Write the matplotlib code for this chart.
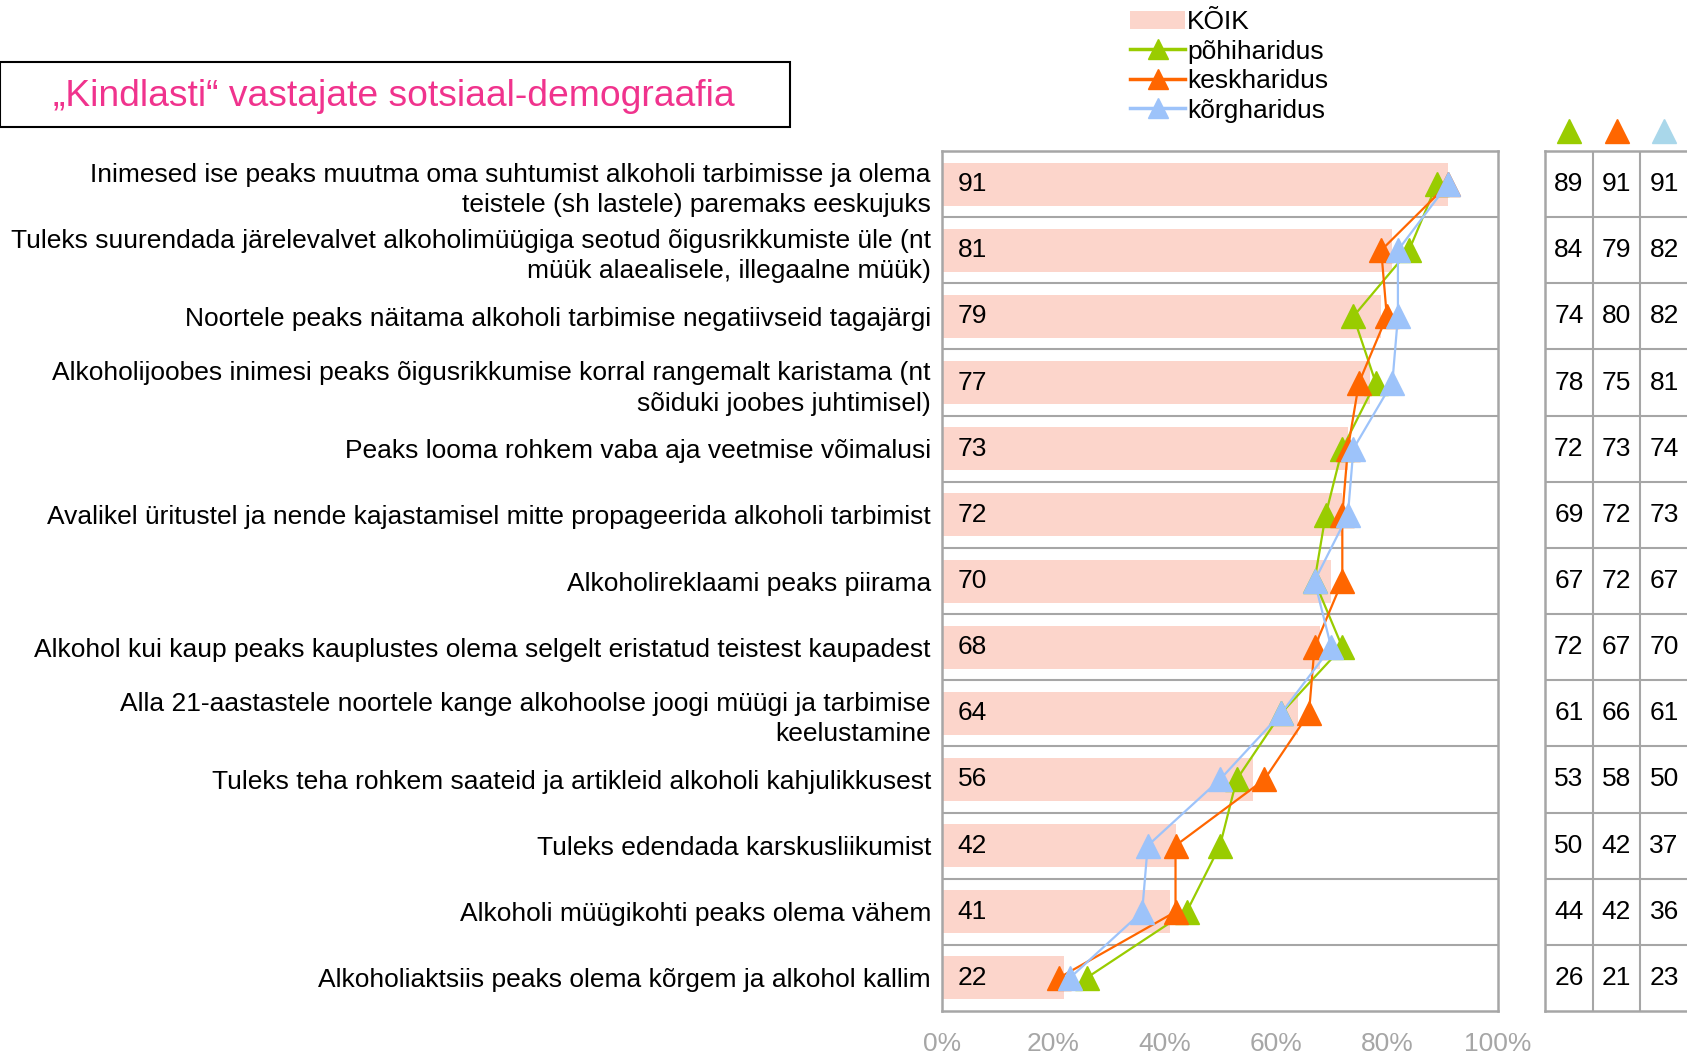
import matplotlib.pyplot as plt
from matplotlib.patches import Rectangle, Patch
from matplotlib.lines import Line2D

plt.rcParams['font.family'] = ['Liberation Sans', 'DejaVu Sans']

categories = [
    "Inimesed ise peaks muutma oma suhtumist alkoholi tarbimisse ja olema\nteistele (sh lastele) paremaks eeskujuks",
    "Tuleks suurendada järelevalvet alkoholimüügiga seotud õigusrikkumiste üle (nt\nmüük alaealisele, illegaalne müük)",
    "Noortele peaks näitama alkoholi tarbimise negatiivseid tagajärgi",
    "Alkoholijoobes inimesi peaks õigusrikkumise korral rangemalt karistama (nt\nsõiduki joobes juhtimisel)",
    "Peaks looma rohkem vaba aja veetmise võimalusi",
    "Avalikel üritustel ja nende kajastamisel mitte propageerida alkoholi tarbimist",
    "Alkoholireklaami peaks piirama",
    "Alkohol kui kaup peaks kauplustes olema selgelt eristatud teistest kaupadest",
    "Alla 21-aastastele noortele kange alkohoolse joogi müügi ja tarbimise\nkeelustamine",
    "Tuleks teha rohkem saateid ja artikleid alkoholi kahjulikkusest",
    "Tuleks edendada karskusliikumist",
    "Alkoholi müügikohti peaks olema vähem",
    "Alkoholiaktsiis peaks olema kõrgem ja alkohol kallim",
]
koik = [91, 81, 79, 77, 73, 72, 70, 68, 64, 56, 42, 41, 22]
pohiharidus = [89, 84, 74, 78, 72, 69, 67, 72, 61, 53, 50, 44, 26]
keskharidus = [91, 79, 80, 75, 73, 72, 72, 67, 66, 58, 42, 42, 21]
korgharidus = [91, 82, 82, 81, 74, 73, 67, 70, 61, 50, 37, 36, 23]
xticks = [0, 20, 40, 60, 80, 100]

W, H = 1687, 1053
fig = plt.figure(figsize=(W / 100, H / 100), dpi=100)

def px_axes(x0, y0, x1, y1):
    return fig.add_axes([x0 / W, 1 - y1 / H, (x1 - x0) / W, (y1 - y0) / H])

pink = '#FCD5CB'
green = '#99CC00'
orange = '#FF6600'
blue = '#9DC3FA'
grid = '#A6A6A6'
fs = 19

n = len(categories)
rows = list(range(n))

ax = px_axes(942, 151, 1498, 1011)
ax.barh(rows, koik, height=0.65, color=pink, zorder=1)
for i, v in enumerate(koik):
    ax.text(2.8, i, str(v), va='center', ha='left', fontsize=fs, zorder=5)

series = [(pohiharidus, green), (keskharidus, orange), (korgharidus, blue)]
for vals, col in series:
    ax.plot(vals, rows, color=col, lw=1.6, marker='^', ms=17, zorder=3)

ax.set_xlim(0, 100)
ax.set_ylim(n - 0.5, -0.5)
for k in range(1, n):
    ax.axhline(k - 0.5, color=grid, lw=1.5, zorder=0)
for s in ax.spines.values():
    s.set_color(grid)
    s.set_linewidth(1.8)
ax.set_yticks(rows)
ax.set_yticklabels(categories, fontsize=fs, linespacing=1.35)
ax.tick_params(axis='y', length=0, pad=8)
ax.set_xticks(xticks)
ax.set_xticklabels([f'{t}%' for t in xticks], fontsize=fs, color=grid)
ax.tick_params(axis='x', length=0, pad=15)

# table of group values on the right
tb = px_axes(1545, 151, 1688, 1011)
tb.set_xlim(0, 3)
tb.set_ylim(n - 0.5, -0.5)
for s in tb.spines.values():
    s.set_color(grid)
    s.set_linewidth(1.8)
tb.set_xticks([])
tb.set_yticks([])
for k in range(1, n):
    tb.axhline(k - 0.5, color=grid, lw=1.5)
for c in (1, 2):
    tb.axvline(c, color=grid, lw=1.5)
for c, (vals, col) in enumerate(series):
    for i, v in enumerate(vals):
        tb.text(c + 0.5, i, str(v), ha='center', va='center', fontsize=fs)
header_cols = [green, orange, '#A9D7EA']
for c, col in enumerate(header_cols):
    tb.plot([c + 0.5], [-0.8], marker='^', ms=17, color=col, clip_on=False, lw=0)

# title box
fig.patches.append(Rectangle((0, 1 - 127 / H), 790 / W, 65 / H, transform=fig.transFigure,
                             facecolor='white', edgecolor='black', lw=1.5))
fig.text(394 / W, 1 - 97 / H, '„Kindlasti“ vastajate sotsiaal-demograafia',
         ha='center', va='center', fontsize=26.8, color='#F0338D')

handles = [
    Patch(facecolor=pink, edgecolor='none'),
    Line2D([], [], color=green, lw=2.5, marker='^', ms=15),
    Line2D([], [], color=orange, lw=2.5, marker='^', ms=15),
    Line2D([], [], color=blue, lw=2.5, marker='^', ms=15),
]
fig.legend(handles, ['KÕIK', 'põhiharidus', 'keskharidus', 'kõrgharidus'],
           loc='upper left', bbox_to_anchor=(1112 / W, 1.008), frameon=False,
           fontsize=fs, handlelength=2.05, handletextpad=0.1, labelspacing=0.21,
           borderpad=0.2)

fig.savefig('out.png', dpi=100)
